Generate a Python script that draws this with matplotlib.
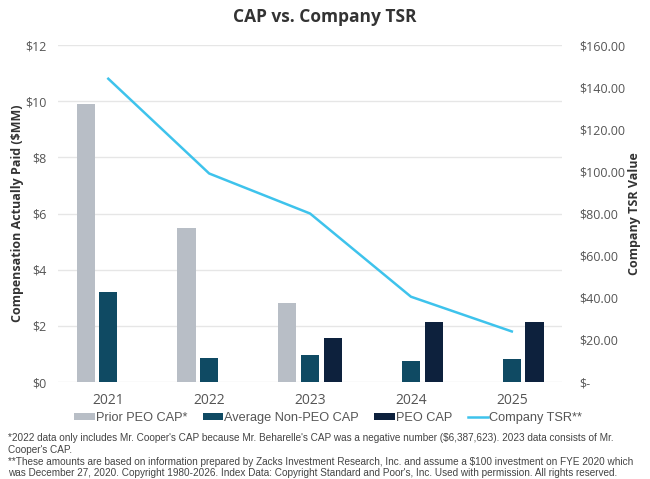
import numpy as np
import matplotlib
matplotlib.use("Agg")
import matplotlib.pyplot as plt
from matplotlib.ticker import FuncFormatter, MultipleLocator

plt.rcParams['font.family'] = ['Open Sans', 'DejaVu Sans']

years = ["2021", "2022", "2023", "2024", "2025"]
prior_peo_cap = [9.9, 5.5, 2.8, np.nan, np.nan]
avg_non_peo_cap = [3.2, 0.85, 0.95, 0.75, 0.82]
peo_cap = [np.nan, np.nan, 1.57, 2.15, 2.15]
company_tsr = [144, 99, 80, 40.5, 24]

footnotes = [
    "*2022 data only includes Mr. Cooper's CAP because Mr. Beharelle's CAP was a negative number (\\$6,387,623). 2023 data consists of Mr.",
    "Cooper's CAP.",
    "**These amounts are based on information prepared by Zacks Investment Research, Inc. and assume a \\$100 investment on FYE 2020 which",
    "was December 27, 2020. Copyright 1980-2026. Index Data: Copyright Standard and Poor's, Inc. Used with permission. All rights reserved.",
]

c_gray = "#b8bec6"
c_teal = "#0f4a63"
c_navy = "#0d213d"
c_line = "#3ec3ec"
c_text = "#555555"

fig = plt.figure(figsize=(6.5, 4.79), dpi=100)
ax = fig.add_axes([0.089, 0.2025, 0.776, 0.7035])
ax2 = ax.twinx()

x = np.arange(len(years))
w = 0.18
off = 0.225
ax.bar(x - off, prior_peo_cap, w, color=c_gray, label="Prior PEO CAP*", zorder=3)
ax.bar(x, avg_non_peo_cap, w, color=c_teal, label="Average Non-PEO CAP", zorder=3)
ax.bar(x + off, peo_cap, w, color=c_navy, label="PEO CAP", zorder=3)
ax2.plot(x, company_tsr, color=c_line, lw=1.8, label="Company TSR**")

ax.set_xlim(-0.5, 4.5)
ax.set_ylim(0, 12)
ax.yaxis.set_major_locator(MultipleLocator(2))
ax.yaxis.set_major_formatter(FuncFormatter(lambda v, p: "\\$%d" % v))
ax.grid(axis="y", color="#e6e6e6", lw=1, zorder=0)
ax.set_xticks(x)
ax.set_xticklabels(years)

ax2.set_ylim(0, 160)
ax2.yaxis.set_major_locator(MultipleLocator(20))
ax2.yaxis.set_major_formatter(FuncFormatter(lambda v, p: "\\$-" if v == 0 else "\\$%.2f" % v))

for a in (ax, ax2):
    for s in a.spines.values():
        s.set_visible(False)
    a.tick_params(length=0, colors=c_text, labelsize=9)
ax.tick_params(axis="x", labelsize=10, pad=8)
ax.tick_params(axis="y", pad=8)
ax2.tick_params(axis="y", pad=12)

ax.set_ylabel("Compensation Actually Paid (\\$MM)", fontsize=9,
              fontweight="bold", color="#333333")
ax.yaxis.set_label_coords(-0.068, 0.5)
ax2.set_ylabel("Company TSR Value", fontsize=9, fontweight="bold", color="#333333", labelpad=2)

fig.text(0.5, 0.965, "CAP vs. Company TSR", ha="center", va="center",
         fontsize=12.5, fontweight="bold", color="#333333")

h1, l1 = ax.get_legend_handles_labels()
h2, l2 = ax2.get_legend_handles_labels()
fig.legend(h1 + h2, l1 + l2, loc="center", bbox_to_anchor=(0.505, 0.127), ncol=4,
           frameon=False, prop={"family": "Liberation Sans", "size": 9.2},
           handlelength=1.6, handleheight=0.45, columnspacing=1.2,
           handletextpad=0.1, labelcolor=c_text)

y0 = 0.0855
for i, line in enumerate(footnotes):
    fig.text(0.012, y0 - i * 0.0245, line, fontsize=7.2, family="Liberation Sans",
             color="#444444", va="center")

fig.savefig("out.png", dpi=100)
